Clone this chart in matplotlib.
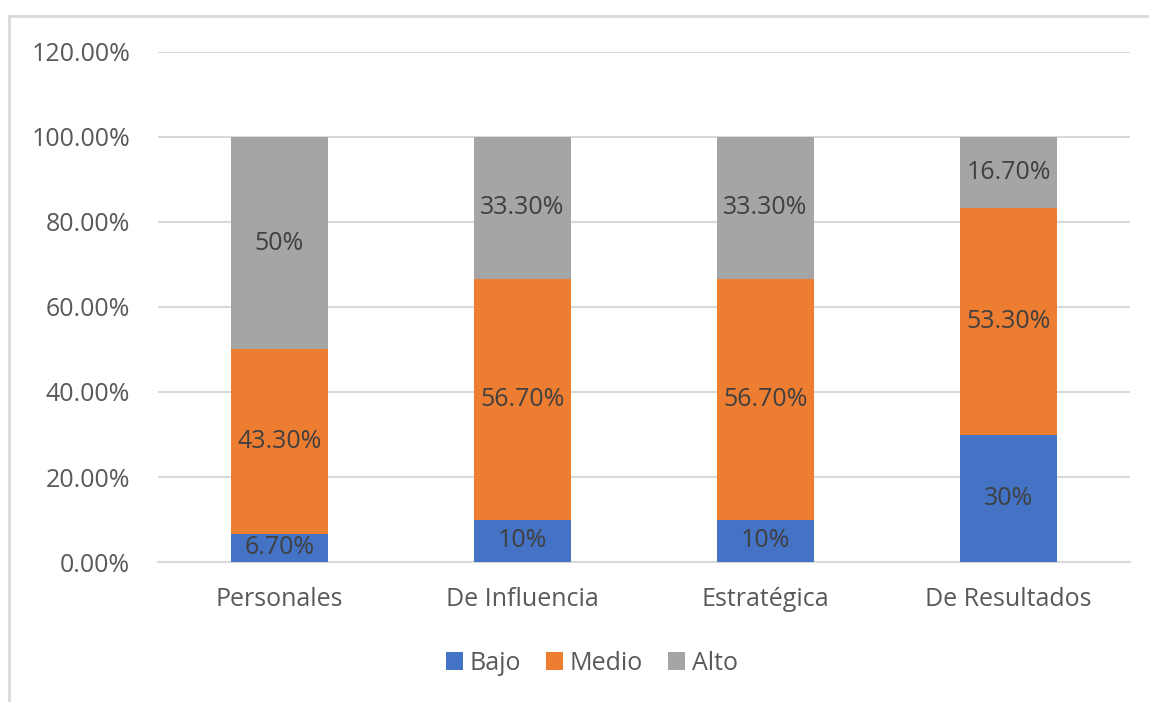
import matplotlib.pyplot as plt
from matplotlib.lines import Line2D

categorias = ['Personales', 'De Influencia', 'Estratégica', 'De Resultados']
bajo = [6.7, 10, 10, 30]
medio = [43.3, 56.7, 56.7, 53.3]
alto = [50, 33.3, 33.3, 16.7]
etiq_bajo = ['6.70%', '10%', '10%', '30%']
etiq_medio = ['43.30%', '56.70%', '56.70%', '53.30%']
etiq_alto = ['50%', '33.30%', '33.30%', '16.70%']
series = ['Bajo', 'Medio', 'Alto']
colores = ['#4472C4', '#ED7D31', '#A5A5A5']

plt.rcParams['font.family'] = ['Open Sans', 'DejaVu Sans']

fig = plt.figure(figsize=(11.49, 7.02), dpi=100)
ax = fig.add_axes([0.1375, 0.1994, 0.846, 0.7266])

x = list(range(len(categorias)))
abajo = [0] * len(categorias)
for vals, etq, col, nom in zip([bajo, medio, alto], [etiq_bajo, etiq_medio, etiq_alto], colores, series):
    bars = ax.bar(x, vals, 0.4, bottom=abajo, color=col, label=nom, zorder=3)
    for i, b in enumerate(bars):
        ax.text(b.get_x() + b.get_width() / 2, abajo[i] + vals[i] / 2, etq[i],
                ha='center', va='center', fontsize=18, color='#404040', zorder=4)
    abajo = [a + v for a, v in zip(abajo, vals)]

ax.set_xlim(-0.5, 3.5)
ax.set_ylim(0, 120)
ax.set_yticks(range(0, 121, 20))
ax.set_yticklabels(['%.2f%%' % v for v in range(0, 121, 20)])
ax.set_xticks(x)
ax.set_xticklabels(categorias)
ax.tick_params(length=0, labelsize=18, labelcolor='#595959')
ax.tick_params(axis='y', pad=20)
ax.tick_params(axis='x', pad=18)
ax.yaxis.grid(True, color='#D9D9D9', linewidth=1.5, zorder=0)
for s in ['top', 'right', 'left']:
    ax.spines[s].set_visible(False)
ax.spines['bottom'].set_color('#D9D9D9')
ax.spines['bottom'].set_linewidth(1.5)

handles, labels = ax.get_legend_handles_labels()
fig.legend(handles, labels, loc='center', bbox_to_anchor=(0.515, 0.055), ncol=3, frameon=False,
           fontsize=18, labelcolor='#595959', handlelength=0.7, handleheight=0.7,
           handletextpad=0.25, columnspacing=1.0)

# borde del grafico (arriba e izquierda)
fig.add_artist(Line2D([0.008, 1.0], [0.977, 0.977], transform=fig.transFigure, color='#D9D9D9', linewidth=2))
fig.add_artist(Line2D([0.008, 0.008], [0.0, 0.977], transform=fig.transFigure, color='#D9D9D9', linewidth=2))

fig.savefig('out.png', dpi=100)
